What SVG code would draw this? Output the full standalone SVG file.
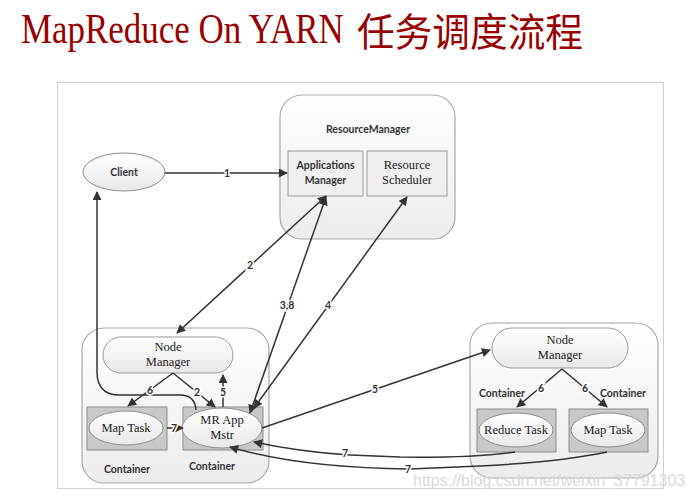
<svg xmlns="http://www.w3.org/2000/svg" width="694" height="498" viewBox="0 0 694 498">
<defs>
<linearGradient id="gBox" x1="0" y1="0" x2="0" y2="1"><stop offset="0" stop-color="#ffffff"/><stop offset="1" stop-color="#ececec"/></linearGradient>
<linearGradient id="gPill" x1="0" y1="0" x2="0" y2="1"><stop offset="0" stop-color="#ffffff"/><stop offset="1" stop-color="#e8e8e8"/></linearGradient>
<marker id="ah" viewBox="0 0 10 10" refX="9" refY="5" markerWidth="10" markerHeight="9" markerUnits="userSpaceOnUse" orient="auto-start-reverse"><path d="M0,0 L10,5 L0,10 z" fill="#333"/></marker>
<style>
.big{fill:url(#gBox);stroke:#a8a8a8;stroke-width:1.2}
.pill{fill:url(#gPill);stroke:#999;stroke-width:1}
.sub{fill:#efefef;stroke:#999;stroke-width:1}
.cont{fill:#c8c8c8;stroke:#8c8c8c;stroke-width:1}
.ell{fill:url(#gPill);stroke:#8c8c8c;stroke-width:1}
.sans{font-family:Lato,"Liberation Sans",sans-serif;font-weight:bold;font-size:10.5px;fill:#333;text-anchor:middle}
.serif{font-family:"Liberation Serif",serif;font-size:12.5px;fill:#222;text-anchor:middle}
.ln{fill:none;stroke:#333;stroke-width:1.5}
.lbl{font-family:Lato,"Liberation Sans",sans-serif;font-weight:bold;font-size:10.5px;fill:#333;text-anchor:middle;dominant-baseline:central;paint-order:stroke;stroke:#fff;stroke-width:3px}
</style>
</defs>
<rect width="694" height="498" fill="#fff"/>
<g id="title" fill="#990000">
<text transform="translate(21,43) scale(0.832,1)" font-family="Liberation Serif,serif" font-size="42">MapReduce On YARN</text>
<text transform="translate(357,45.5) scale(0.966,1)" font-family="Noto Sans CJK SC,sans-serif" font-size="39">任务调度流程</text>
</g>
<rect id="frame" x="57.5" y="82.5" width="606" height="406" fill="#fff" stroke="#d0d0d0" stroke-width="1"/>
<g id="resourcemanager">
<rect class="big" x="280" y="95" width="175" height="144" rx="22"/>
<text class="sans" x="368" y="133">ResourceManager</text>
</g>
<g id="applicationsmanager">
<rect class="sub" x="288" y="151" width="75" height="45"/>
<text class="sans" x="325.5" y="169">Applications</text>
<text class="sans" x="325.5" y="184">Manager</text>
</g>
<g id="resourcescheduler">
<rect class="sub" x="367" y="151" width="80" height="45"/>
<text class="serif" x="407" y="169">Resource</text>
<text class="serif" x="407" y="184">Scheduler</text>
</g>
<g id="client">
<ellipse class="ell" cx="124" cy="172" rx="41" ry="19"/>
<text class="sans" x="124" y="176">Client</text>
</g>
<g id="nodemanager1box">
<rect class="big" x="82" y="328" width="187" height="155" rx="22"/>
</g>
<g id="nodemanager1">
<rect class="pill" x="103" y="337" width="130" height="36" rx="18"/>
<text class="serif" x="168" y="351">Node</text>
<text class="serif" x="168" y="366">Manager</text>
</g>
<g id="maptask1">
<rect class="cont" x="87" y="407" width="80" height="43"/>
<ellipse class="ell" cx="126" cy="428" rx="37" ry="17"/>
<text class="serif" x="126" y="432">Map Task</text>
<text class="sans" x="127" y="473">Container</text>
</g>
<g id="mrappmstr">
<rect class="cont" x="183" y="407" width="80" height="43"/>
<ellipse class="ell" cx="222" cy="428" rx="40" ry="20"/>
<text class="serif" x="222" y="424">MR App</text>
<text class="serif" x="222" y="439">Mstr</text>
<text class="sans" x="212" y="470">Container</text>
</g>
<g id="nodemanager2box">
<rect class="big" x="470" y="323" width="188" height="155" rx="22"/>
</g>
<g id="nodemanager2">
<rect class="pill" x="492" y="328" width="136" height="40" rx="20"/>
<text class="serif" x="560" y="344">Node</text>
<text class="serif" x="560" y="359">Manager</text>
</g>
<g id="reducetask">
<rect class="cont" x="477" y="409" width="79" height="43"/>
<ellipse class="ell" cx="516" cy="430" rx="37" ry="17"/>
<text class="serif" x="516" y="434">Reduce Task</text>
<text class="sans" x="502" y="397">Container</text>
</g>
<g id="maptask2">
<rect class="cont" x="569" y="409" width="79" height="43"/>
<ellipse class="ell" cx="608" cy="430" rx="37" ry="17"/>
<text class="serif" x="608" y="434">Map Task</text>
<text class="sans" x="623" y="397">Container</text>
</g>
<g id="connectors">
<path class="ln" d="M165,173 L287,173" marker-end="url(#ah)"/>
<path class="ln" d="M177,333 L326,196" marker-start="url(#ah)" marker-end="url(#ah)"/>
<path class="ln" d="M250,413 L326,197" marker-start="url(#ah)" marker-end="url(#ah)"/>
<path class="ln" d="M254,408 L407,197" marker-start="url(#ah)" marker-end="url(#ah)"/>
<path class="ln" d="M262,428 L490,350" marker-end="url(#ah)"/>
<path class="ln" d="M196,410 Q195,395 180,395 L118,395 Q97,394 97,372 L97,192" marker-end="url(#ah)"/>
<path class="ln" d="M173,373 L128,406" marker-end="url(#ah)"/>
<path class="ln" d="M173,373 L215,407" marker-end="url(#ah)"/>
<path class="ln" d="M223,407 L223,375" marker-end="url(#ah)"/>
<path class="ln" d="M167,428 L183,428" marker-end="url(#ah)"/>
<path class="ln" d="M562,369 L517,407" marker-end="url(#ah)"/>
<path class="ln" d="M562,369 L607,407" marker-end="url(#ah)"/>
<path class="ln" d="M515,452 Q470,458 400,457 L350,455 Q300,452 254,442" marker-end="url(#ah)"/>
<path class="ln" d="M607,452 Q560,462 480,466 L410,469 Q300,468 230,447" marker-end="url(#ah)"/>
<text class="lbl" x="227" y="173">1</text>
<text class="lbl" x="250" y="265">2</text>
<text class="lbl" x="287" y="305">3,8</text>
<text class="lbl" x="328" y="305">4</text>
<text class="lbl" x="375" y="389">5</text>
<text class="lbl" x="150" y="390">6</text>
<text class="lbl" x="197" y="392">2</text>
<text class="lbl" x="223" y="392">5</text>
<text class="lbl" x="174" y="428">7</text>
<text class="lbl" x="541" y="388">6</text>
<text class="lbl" x="585" y="388">6</text>
<text class="lbl" x="345" y="453">7</text>
<text class="lbl" x="408" y="469">7</text>
</g>
<text id="watermark" x="413" y="486" font-family="Liberation Sans,sans-serif" font-size="16" fill="#d8d8d8">https://blog.csdn.net/weixin_37791303</text>
</svg>
